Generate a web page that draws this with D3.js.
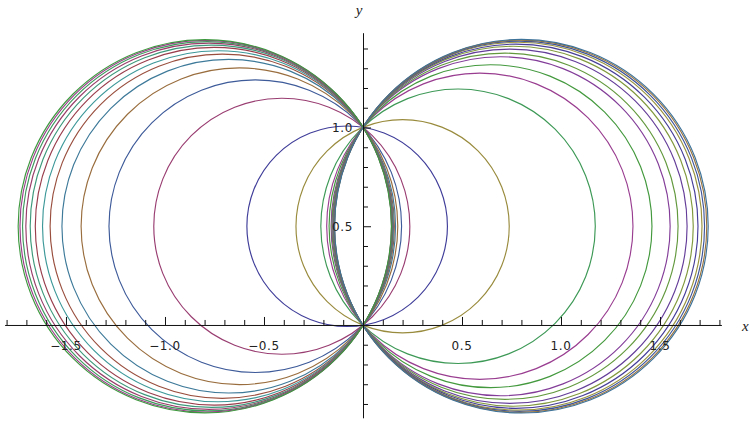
<!DOCTYPE html>
<html>
<head>
<meta charset="utf-8">
<script src="https://cdn.jsdelivr.net/npm/d3@7"></script>
<style>
  html, body { margin: 0; padding: 0; background: #fff; }
  svg { display: block; }
  .tick-label { font-family: "DejaVu Sans", sans-serif; font-size: 12px; fill: #222; letter-spacing: 0.6px; }
  .axis-title { font-family: "Liberation Serif", serif; font-style: italic; font-size: 15px; fill: #222; }
</style>
</head>
<body>
<svg id="chart" width="749" height="422"></svg>
<script>
// Family of circles through (0,0) and (0,1): centre (c, 0.5), radius sqrt(c^2 + 1/4).
// One entry per curve, in plotting order (the colour follows the order).
const curveIndex = d3.range(1, 27);
const centerX = [
  -0.080, -0.410,  0.200,  0.480, -0.544,  0.590, -0.624,  0.644,
  -0.678,  0.695, -0.711,  0.717, -0.732,  0.742, -0.752,  0.759,
  -0.766,  0.772, -0.778,  0.783, -0.787,  0.790, -0.794,  0.796,
  -0.799,  0.800
];
const centerY = 0.5;

// Axis ticks
const xMajor = [-1.5, -1.0, -0.5, 0.5, 1.0, 1.5];
const xMajorLabels = ["\u22121.5", "\u22121.0", "\u22120.5", "0.5", "1.0", "1.5"];
const xMinor = [-1.8, -1.7, -1.6, -1.4, -1.3, -1.2, -1.1, -0.9, -0.8, -0.7, -0.6,
                -0.4, -0.3, -0.2, -0.1, 0.1, 0.2, 0.3, 0.4, 0.6, 0.7, 0.8, 0.9,
                1.1, 1.2, 1.3, 1.4, 1.6, 1.7, 1.8];
const yMajor = [0.5, 1.0];
const yMajorLabels = ["0.5", "1.0"];
const yMinor = [-0.4, -0.3, -0.2, -0.1, 0.1, 0.2, 0.3, 0.4, 0.6, 0.7, 0.8, 0.9,
                1.1, 1.2, 1.3, 1.4];

const svg = d3.select("#chart");

// Equal-aspect scales; the axis lines span the full domains.
const x = d3.scaleLinear().domain([-1.81, 1.81]).range([4.6, 721.4]);
const y = d3.scaleLinear().domain([-0.47, 1.48]).range([417.8, 32.7]);

// Default plot colours: hue steps of 0.236, saturation and brightness 0.6.
function hsv(h, s, v) {
  h = ((h % 1) + 1) % 1;
  const i = Math.floor(h * 6), f = h * 6 - i;
  const p = v * (1 - s), q = v * (1 - s * f), t = v * (1 - s * (1 - f));
  const rgb = [[v, t, p], [q, v, p], [p, v, t], [p, q, v], [t, p, v], [v, p, q]][i % 6];
  return d3.rgb(rgb[0] * 255, rgb[1] * 255, rgb[2] * 255).formatHex();
}
const colorOf = k => hsv(0.67 + 0.236 * (k - 1), 0.6, 0.6);

const curves = curveIndex.map((k, i) => ({
  k, c: centerX[i], r: Math.sqrt(centerX[i] * centerX[i] + 0.25)
}));

svg.append("g")
  .selectAll("circle")
  .data(curves)
  .join("circle")
  .attr("cx", d => x(d.c))
  .attr("cy", y(centerY))
  .attr("r", d => x(d.c + d.r) - x(d.c))
  .attr("fill", "none")
  .attr("stroke", d => colorOf(d.k))
  .attr("stroke-width", 1.15);

// Axes through the origin, ticks on the positive side
function styleAxis(g, keepDomain) {
  if (!keepDomain) g.select(".domain").remove();
  g.selectAll("text").remove();
  g.selectAll("line, path").attr("stroke", "#111").attr("stroke-width", 1);
}

svg.append("g")
  .attr("transform", `translate(0,${y(0)})`)
  .call(d3.axisTop(x).tickValues(xMinor).tickSize(5).tickSizeOuter(0).tickFormat(""))
  .call(g => styleAxis(g, false));
svg.append("g")
  .attr("transform", `translate(0,${y(0)})`)
  .call(d3.axisTop(x).tickValues(xMajor).tickSize(8).tickSizeOuter(0).tickFormat(""))
  .call(g => styleAxis(g, true));

svg.append("g")
  .attr("transform", `translate(${x(0)},0)`)
  .call(d3.axisRight(y).tickValues(yMinor).tickSize(5).tickSizeOuter(0).tickFormat(""))
  .call(g => styleAxis(g, false));
svg.append("g")
  .attr("transform", `translate(${x(0)},0)`)
  .call(d3.axisRight(y).tickValues(yMajor).tickSize(8).tickSizeOuter(0).tickFormat(""))
  .call(g => styleAxis(g, true));

// Tick labels
svg.append("g").selectAll("text")
  .data(xMajor)
  .join("text")
  .attr("class", "tick-label")
  .attr("x", d => x(d))
  .attr("y", y(0) + 25)
  .attr("text-anchor", "middle")
  .text((d, i) => xMajorLabels[i]);

svg.append("g").selectAll("text")
  .data(yMajor)
  .join("text")
  .attr("class", "tick-label")
  .attr("x", x(0) - 10)
  .attr("y", d => y(d) + 4.5)
  .attr("text-anchor", "end")
  .text((d, i) => yMajorLabels[i]);

// Axis titles
svg.append("text").attr("class", "axis-title")
  .attr("x", x(0) - 4).attr("y", 15).attr("text-anchor", "middle").text("y");
svg.append("text").attr("class", "axis-title")
  .attr("x", 742).attr("y", y(0) + 6).text("x");
</script>
</body>
</html>
